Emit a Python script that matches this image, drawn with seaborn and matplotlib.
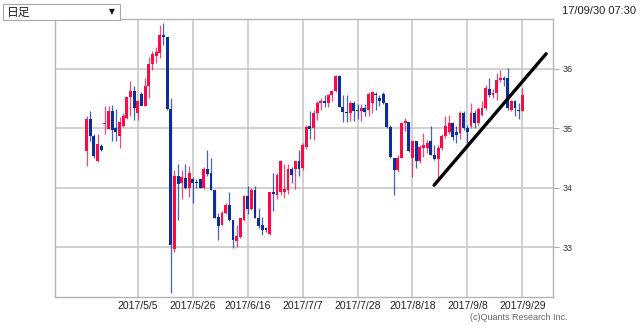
import numpy as np
import pandas as pd
import matplotlib
matplotlib.use("Agg")
import matplotlib.pyplot as plt
from matplotlib.patches import Rectangle
import seaborn as sns

# ---------------- data ----------------
dates = pd.bdate_range("2017-04-17", "2017-09-29")

opens = [34.62, 35.15, 34.87, 34.45, 34.70, 35.07, 34.98, 35.28, 35.01, 34.87,
         35.04, 35.17, 35.52, 35.62, 35.25, 35.58, 35.38, 35.71, 36.07, 36.22,
         36.26, 36.57, 36.53, 35.32, 32.96, 34.20, 34.07, 34.16, 34.00, 34.15,
         34.10, 34.15, 34.00, 34.32, 34.24, 33.96, 33.51, 33.37, 33.57, 33.71,
         33.46, 33.11, 33.17, 33.45, 33.86, 33.64, 33.96, 33.49, 33.37, 33.32,
         33.22, 33.92, 33.88, 33.93, 33.93, 33.96, 34.32, 34.32, 34.44, 34.33,
         34.68, 35.03, 35.00, 35.25, 35.42, 35.45, 35.43, 35.55, 35.63, 35.88,
         35.35, 35.27, 35.25, 35.42, 35.30, 35.28, 35.33, 35.30, 35.42, 35.57,
         35.50, 35.57, 35.43, 35.02, 34.50, 34.30, 34.50, 35.08, 35.10, 34.49,
         34.78, 34.44, 34.66, 34.66, 34.78, 34.55, 34.48, 34.66, 34.86, 34.93,
         35.08, 34.94, 34.92, 35.25, 35.00, 35.03, 35.25, 35.08, 35.22, 35.34,
         35.65, 35.56, 35.59, 35.81, 35.84, 35.84, 35.31, 35.45, 35.31, 35.28]
highs = [35.21, 35.29, 34.90, 34.90, 34.73, 35.38, 35.38, 35.39, 35.32, 35.18,
         35.25, 35.53, 35.79, 35.70, 35.48, 35.60, 35.84, 36.20, 36.29, 36.37,
         36.74, 36.76, 36.53, 35.50, 34.30, 34.40, 34.30, 34.40, 34.36, 34.17,
         34.15, 34.15, 34.34, 34.63, 34.50, 33.96, 33.57, 33.60, 33.74, 33.93,
         33.46, 33.37, 33.49, 33.87, 34.03, 33.99, 34.02, 33.66, 33.50, 33.34,
         33.93, 34.24, 34.25, 34.47, 34.40, 34.40, 34.35, 34.44, 34.63, 34.75,
         35.05, 35.29, 35.31, 35.45, 35.50, 35.55, 35.58, 35.64, 35.90, 35.90,
         35.55, 35.55, 35.45, 35.45, 35.40, 35.40, 35.40, 35.60, 35.62, 35.60,
         35.55, 35.60, 35.43, 35.05, 34.50, 34.55, 35.10, 35.17, 35.10, 34.78,
         34.78, 34.71, 34.91, 34.80, 35.03, 34.72, 34.72, 34.90, 35.20, 35.22,
         35.10, 35.03, 35.28, 35.28, 35.06, 35.42, 35.30, 35.35, 35.45, 35.72,
         35.85, 35.65, 35.93, 35.97, 35.87, 36.01, 35.48, 35.48, 35.42, 35.67]
lows = [34.37, 34.79, 34.50, 34.43, 34.62, 34.90, 34.98, 34.78, 34.79, 34.66,
        35.02, 35.15, 35.20, 35.14, 35.14, 35.40, 35.37, 35.50, 35.98, 36.10,
        36.18, 36.40, 35.30, 32.23, 32.92, 33.46, 33.80, 33.98, 33.85, 33.74,
        34.00, 33.99, 33.97, 34.20, 33.96, 33.49, 33.12, 33.37, 33.55, 33.43,
        32.98, 33.00, 33.16, 33.43, 33.55, 33.62, 33.49, 33.32, 33.21, 33.26,
        33.20, 33.60, 33.80, 33.88, 33.82, 33.90, 34.07, 33.98, 34.20, 34.30,
        34.65, 34.82, 34.80, 35.13, 35.30, 35.35, 35.35, 35.45, 35.60, 35.35,
        35.10, 35.10, 35.12, 35.12, 35.15, 35.12, 35.20, 35.20, 35.25, 35.30,
        35.37, 35.40, 35.00, 34.50, 33.88, 34.27, 34.50, 34.95, 34.60, 34.18,
        34.33, 34.41, 34.52, 34.58, 34.55, 34.46, 34.13, 34.64, 34.84, 34.90,
        34.80, 34.75, 34.82, 34.97, 34.75, 35.00, 35.00, 35.05, 35.20, 35.30,
        35.53, 35.50, 35.48, 35.78, 35.70, 35.30, 35.28, 35.20, 35.16, 35.28]
closes = [35.15, 34.87, 34.53, 34.73, 34.64, 35.09, 35.29, 34.97, 34.94, 35.10,
          35.20, 35.53, 35.62, 35.34, 35.45, 35.38, 35.71, 36.07, 36.24, 36.28,
          36.57, 36.53, 35.32, 33.03, 34.19, 34.06, 34.18, 34.00, 34.25, 34.07,
          34.08, 34.00, 34.32, 34.23, 33.96, 33.49, 33.36, 33.57, 33.71, 33.46,
          33.12, 33.19, 33.49, 33.86, 33.64, 33.96, 33.49, 33.35, 33.29, 33.29,
          33.93, 33.89, 34.21, 34.44, 33.97, 34.32, 34.21, 34.44, 34.32, 34.72,
          35.02, 34.98, 35.25, 35.42, 35.45, 35.43, 35.56, 35.63, 35.88, 35.35,
          35.27, 35.25, 35.42, 35.28, 35.28, 35.33, 35.27, 35.58, 35.60, 35.55,
          35.45, 35.43, 35.02, 34.52, 34.30, 34.50, 35.08, 35.12, 34.62, 34.78,
          34.44, 34.68, 34.72, 34.75, 34.55, 34.48, 34.66, 34.86, 35.03, 35.08,
          34.85, 34.89, 35.25, 35.00, 34.93, 35.25, 35.08, 35.32, 35.34, 35.67,
          35.56, 35.59, 35.81, 35.84, 35.81, 35.34, 35.45, 35.34, 35.28, 35.56]

tick_dates = ["2017-05-05", "2017-05-26", "2017-06-16", "2017-07-07",
              "2017-07-28", "2017-08-18", "2017-09-08", "2017-09-29"]
y_ticks = [33, 34, 35, 36]
trend_x = [94.9, 125.5]        # bar-index positions of the drawn trend line
trend_y = [34.04, 36.25]

period_label = "日足"
timestamp = "17/09/30 07:30"
credit = "(c)Quants Research Inc."

# ---------------- figure ----------------
sns.set_style("white")
plt.rcParams["font.family"] = ["Liberation Sans", "DejaVu Sans"]

W, H = 640, 325
fig = plt.figure(figsize=(W / 100, H / 100), dpi=100)
ax = fig.add_axes([54.7 / W, 1 - 297 / H, (552.7 - 54.7) / W, (297 - 19.3) / H])

UP = "#fa0a46"
DOWN = "#0a2e9c"

df = pd.DataFrame({"date": dates, "open": opens, "high": highs,
                   "low": lows, "close": closes})
df["idx"] = np.arange(len(df))
df["up"] = df["close"] >= df["open"]
colors = np.where(df["up"], UP, DOWN)

# wicks
ax.vlines(df["idx"], df["low"], df["high"], colors=colors, linewidth=0.9,
          alpha=0.75, zorder=3)
# bodies
body_bottom = np.minimum(df["open"], df["close"])
body_h = np.maximum(np.abs(df["close"] - df["open"]), 0.02)
ax.bar(df["idx"], body_h, bottom=body_bottom, width=0.78, color=colors,
       linewidth=0, zorder=4)

# trend line (drawn with seaborn)
sns.lineplot(x=trend_x, y=trend_y, ax=ax, color="black", linewidth=2.4,
             zorder=5, legend=False)

# axes cosmetics
ax.set_xlim(-8.7, 127.3)
ax.set_ylim(32.16, 36.83)
tick_idx = [int(df.index[df["date"] == pd.Timestamp(d)][0]) for d in tick_dates]
ax.set_xticks(tick_idx)
ax.set_xticklabels([f"{pd.Timestamp(d).year}/{pd.Timestamp(d).month}/{pd.Timestamp(d).day}"
                    for d in tick_dates], fontsize=7.5, color="#222222")
ax.set_yticks(y_ticks)
ax.set_yticklabels([str(v) for v in y_ticks], fontsize=6.5, color="#333333")
ax.yaxis.tick_right()
ax.tick_params(axis="y", length=4, width=0.8, color="#aaaaaa", pad=3)
ax.tick_params(axis="x", length=0, pad=3)
ax.grid(True, color="#c4c4c4", linewidth=1.1, zorder=0)
ax.set_axisbelow(True)
for s in ax.spines.values():
    s.set_visible(True)
    s.set_color("#b4b4b4")
    s.set_linewidth(1.0)
ax.set_xlabel("")
ax.set_ylabel("")

# header: dropdown box and timestamp
fig.patches.append(Rectangle((3 / W, 1 - 20 / H), 117 / W, 16 / H,
                             transform=fig.transFigure, facecolor="white",
                             edgecolor="#a8a8a8", linewidth=0.8))
fig.text(7 / W, 1 - 12 / H, period_label, fontsize=8.5, va="center", ha="left",
         family=["Noto Sans CJK JP", "DejaVu Sans"], color="#222222")
fig.text(112 / W, 1 - 12 / H, "▼", fontsize=5.5, va="center", ha="center",
         family=["DejaVu Sans"], color="#111111")
fig.text(636 / W, 1 - 11 / H, timestamp, fontsize=8, va="center", ha="right",
         color="#222222")
fig.text(519 / W, 1 - 317 / H, credit, fontsize=6.5, va="center", ha="center",
         color="#666666")

fig.savefig("out.png", dpi=100)
